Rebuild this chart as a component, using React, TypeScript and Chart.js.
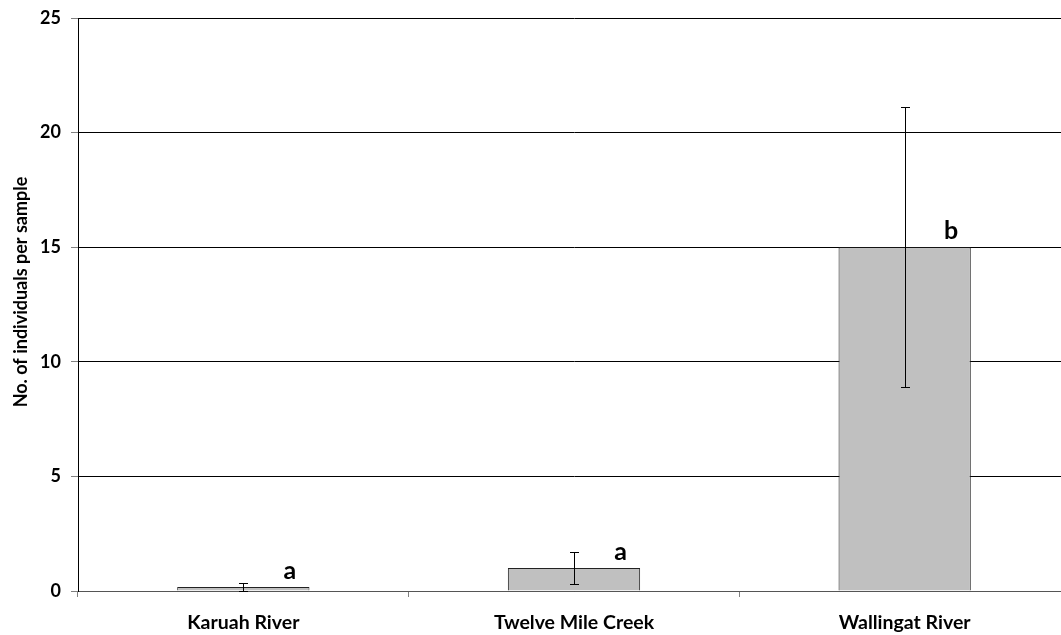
import React, { useEffect, useRef } from "react";
import { Chart, registerables } from "chart.js";

Chart.register(...registerables);

// Mean abundance per site with error half-widths and significance groups
const sites = ["Karuah River", "Twelve Mile Creek", "Wallingat River"];
const meanCounts = [0.17, 1.0, 15.0];
const errorRange = [0.18, 0.68, 6.1];
const groupLetters = ["a", "a", "b"];
const yMin = 0;
const yMax = 25;
const yStep = 5;
const yTitle = "No. of individuals per sample";

const FONT = "Lato, 'Open Sans', sans-serif";

// Draws error bars, group letters and the rotated axis title
const overlayPlugin = {
  id: "overlay",
  afterDatasetsDraw(chart: any) {
    const { ctx, scales } = chart;
    const y = scales.y;
    const meta = chart.getDatasetMeta(0);
    ctx.save();
    ctx.strokeStyle = "#000";
    ctx.lineWidth = 1;
    meta.data.forEach((bar: any, i: number) => {
      const x = Math.round(bar.x) + 0.5;
      const hi = meanCounts[i] + errorRange[i];
      const lo = Math.max(yMin, meanCounts[i] - errorRange[i]);
      const yTop = Math.round(y.getPixelForValue(hi)) + 0.5;
      const yBot = Math.round(y.getPixelForValue(lo)) + 0.5;
      ctx.beginPath();
      ctx.moveTo(x, yTop);
      ctx.lineTo(x, yBot);
      ctx.moveTo(x - 4.5, yTop);
      ctx.lineTo(x + 4.5, yTop);
      ctx.moveTo(x - 4.5, yBot);
      ctx.lineTo(x + 4.5, yBot);
      ctx.stroke();
    });

    ctx.fillStyle = "#000";
    ctx.font = `bold 25px ${FONT}`;
    ctx.textAlign = "center";
    ctx.textBaseline = "alphabetic";
    meta.data.forEach((bar: any, i: number) => {
      ctx.fillText(groupLetters[i], bar.x + 46.5, bar.y - 8);
    });

    ctx.font = `bold 18px ${FONT}`;
    ctx.textBaseline = "middle";
    ctx.translate(21, 292);
    ctx.rotate(-Math.PI / 2);
    ctx.fillText(yTitle, 0, 0);
    ctx.restore();
  },
};

export default function App() {
  const canvasRef = useRef<HTMLCanvasElement | null>(null);

  useEffect(() => {
    if (!canvasRef.current) return;
    const chart = new Chart(canvasRef.current, {
      type: "bar",
      data: {
        labels: sites,
        datasets: [
          {
            data: meanCounts,
            backgroundColor: "#c0c0c0",
            borderColor: "#222",
            borderWidth: 1,
            barPercentage: 0.4,
            categoryPercentage: 1,
          },
        ],
      },
      options: {
        animation: false,
        responsive: false,
        devicePixelRatio: 1,
        layout: { padding: { top: 18, left: 0, right: 0, bottom: 0 } },
        plugins: {
          legend: { display: false },
          tooltip: { enabled: false },
        },
        scales: {
          x: {
            grid: {
              offset: true,
              drawOnChartArea: false,
              drawTicks: true,
              tickLength: 6,
              color: "#808080",
            },
            border: { color: "#555", width: 1 },
            ticks: {
              padding: 14,
              color: "#000",
              font: { family: FONT, size: 19.5, weight: "bold" },
              maxRotation: 0,
            },
            afterFit(scale: any) {
              scale.height = 44;
            },
          },
          y: {
            min: yMin,
            max: yMax,
            ticks: {
              stepSize: yStep,
              padding: 10,
              color: "#000",
              font: { family: FONT, size: 18, weight: "bold" },
            },
            grid: {
              color: "#000",
              lineWidth: 1,
              tickLength: 7,
              tickColor: "#808080",
            },
            border: { color: "#000", width: 1 },
            afterFit(scale: any) {
              scale.width = 78;
              scale.paddingTop = 0;
              scale.paddingBottom = 0;
            },
          },
        },
      },
      plugins: [overlayPlugin],
    });
    return () => chart.destroy();
  }, []);

  return (
    <div
      style={{
        position: "fixed",
        left: 0,
        top: 0,
        width: 1061,
        height: 635,
        overflow: "hidden",
        background: "#fff",
      }}
    >
      <canvas ref={canvasRef} width={1070} height={635} style={{ display: "block" }} />
    </div>
  );
}
